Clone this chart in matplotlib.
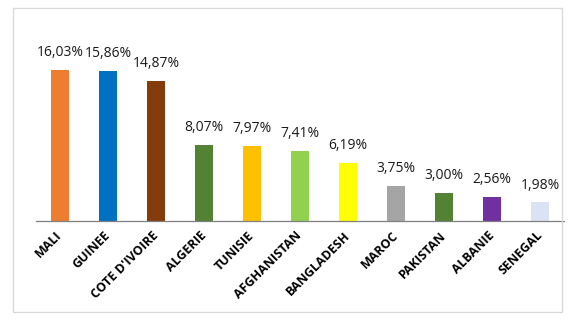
import matplotlib.pyplot as plt
from matplotlib.patches import Rectangle

pays = ['MALI', 'GUINEE', "COTE D'IVOIRE", 'ALGERIE', 'TUNISIE', 'AFGHANISTAN',
        'BANGLADESH', 'MAROC', 'PAKISTAN', 'ALBANIE', 'SENEGAL']
pourcentages = [16.03, 15.86, 14.87, 8.07, 7.97, 7.41, 6.19, 3.75, 3.00, 2.56, 1.98]
couleurs = ['#ED7D31', '#0070C0', '#843C0C', '#548235', '#FFC000', '#92D050',
            '#FFFF00', '#A5A5A5', '#548235', '#7030A0', '#DAE3F3']

W, H = 578, 328
fig = plt.figure(figsize=(W / 100, H / 100), dpi=100)

# cadre gris autour du graphique
fig.patches.append(Rectangle((13 / W, 1 - 312 / H), (562 - 13) / W, (312 - 8) / H,
                             transform=fig.transFigure, fill=False,
                             edgecolor='#D9D9D9', linewidth=1))

ax = fig.add_axes([36 / W, 1 - 221 / H, 528 / W, (221 - 51) / H])
x = range(len(pays))
barres = ax.bar(x, pourcentages, width=0.36, color=couleurs)

for b, v in zip(barres, pourcentages):
    ax.annotate(f"{v:.2f}".replace('.', ',') + '%',
                (b.get_x() + b.get_width() / 2, v), xytext=(0, 7),
                textcoords='offset points', ha='center', va='bottom',
                fontsize=10, color='#1A1A1A', family='Open Sans')

ax.set_xlim(-0.5, len(pays) - 0.5)
ax.set_ylim(0, 18)
ax.set_xticks(list(x))
ax.set_xticklabels(pays, rotation=45, ha='right', rotation_mode='anchor',
                   fontsize=9, fontweight='bold', family='Open Sans')
ax.tick_params(axis='x', length=0, pad=9)
for lab in ax.get_xticklabels():
    lab.set_va('center')
ax.set_yticks([])
for s in ['left', 'right', 'top']:
    ax.spines[s].set_visible(False)
ax.spines['bottom'].set_color('#7F7F7F')
ax.spines['bottom'].set_linewidth(0.9)

fig.savefig('out.png', dpi=100)
